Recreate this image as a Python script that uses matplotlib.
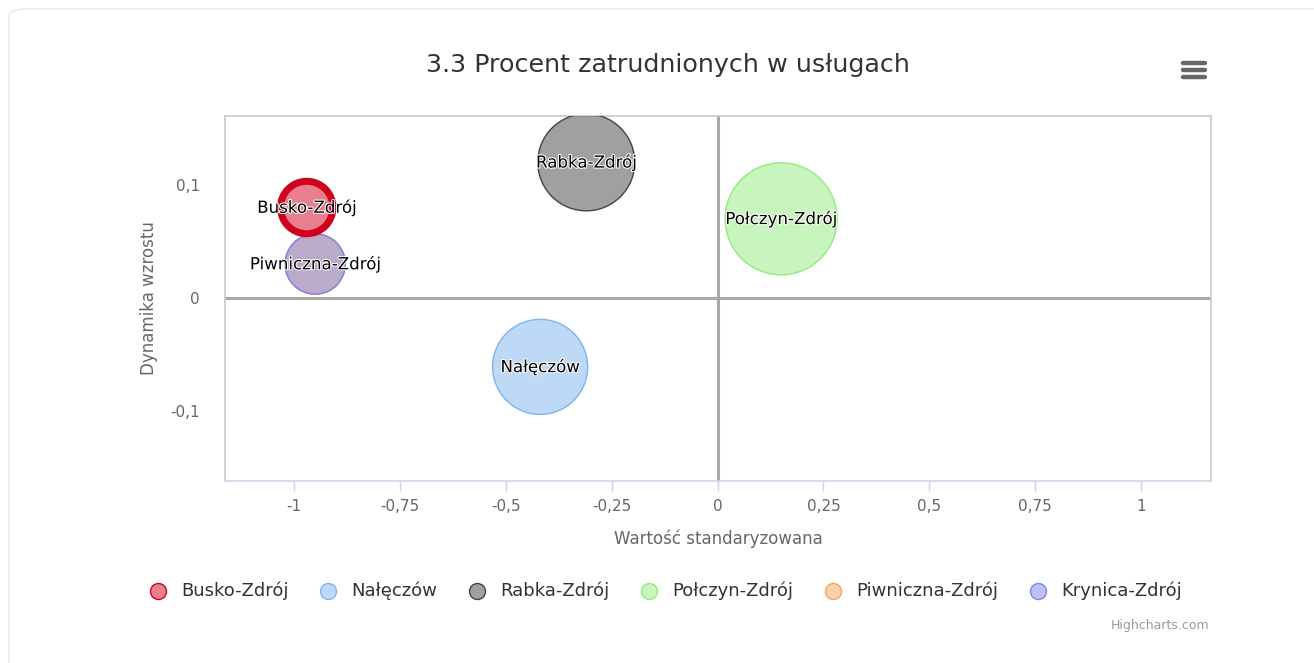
import matplotlib
matplotlib.use('Agg')
import matplotlib.pyplot as plt
import matplotlib.patheffects as pe
from matplotlib.patches import FancyBboxPatch
from matplotlib.lines import Line2D
import numpy as np

# series data
names = ['Busko-Zdrój', 'Nałęczów', 'Rabka-Zdrój', 'Połczyn-Zdrój',
         'Piwniczna-Zdrój', 'Krynica-Zdrój']
x_vals = [-0.970, -0.419, -0.310, 0.150, -0.950, -0.950]
y_vals = [0.080, -0.061, 0.120, 0.070, 0.030, 0.030]
z_vals = [0.22, 0.72, 0.75, 1.00, 0.29, 0.29]
colors = ['#d0021b', '#7cb5ec', '#434348', '#90ed7d', '#f7a35c', '#8085e9']
show_label = [True, True, True, True, True, False]

x_ticks = [-1, -0.75, -0.5, -0.25, 0, 0.25, 0.5, 0.75, 1]
y_ticks = [-0.1, 0, 0.1]

title = '3.3 Procent zatrudnionych w usługach'
x_title = 'Wartość standaryzowana'
y_title = 'Dynamika wzrostu'

W, H, DPI = 1314, 663, 100
PX = 72.0 / DPI  # points per pixel
plt.rcParams['font.family'] = ['DejaVu Sans']


def fmt(v):
    return ('%g' % v).replace('.', ',')


fig = plt.figure(figsize=(W / DPI, H / DPI), dpi=DPI)

# card background
card = FancyBboxPatch((9 / W, -0.05), 1.1, 1.05 - 9 / H,
                      boxstyle='round,pad=0,rounding_size=0.012',
                      transform=fig.transFigure, facecolor='white',
                      edgecolor='#ebebeb', linewidth=1.2, zorder=-10)
fig.patches.append(card)

left, right, top, bottom = 225, 1211, 116, 481
ax = fig.add_axes([left / W, 1 - bottom / H, (right - left) / W, (bottom - top) / H])
ax.set_zorder(1)
ax.patch.set_alpha(0)
ax.set_xlim(-1.163, 1.165)
ax.set_ylim(-0.162, 0.161)

# bubbles
r_max = 56.0
z_max = max(z_vals)
for i, name in enumerate(names):
    r = r_max * np.sqrt(z_vals[i] / z_max)
    s = (2 * r * PX) ** 2
    zo = 5 if i == 0 else 3
    lw = 7 * PX if i == 0 else 1
    ax.scatter(x_vals[i], y_vals[i], s=s, facecolor=colors[i], alpha=0.5,
               edgecolor='none', zorder=zo)
    ax.scatter(x_vals[i], y_vals[i], s=s, facecolor='none',
               edgecolor=colors[i], linewidth=lw, zorder=zo)

for i, name in enumerate(names):
    if show_label[i]:
        ax.text(x_vals[i], y_vals[i], name, ha='center', va='center',
                fontsize=12, color='black', zorder=10,
                path_effects=[pe.withStroke(linewidth=1.5, foreground='white')])

# zero lines
ax.axhline(0, color='#a9a9a9', linewidth=2.2, zorder=2)
ax.axvline(0, color='#a9a9a9', linewidth=2.2, zorder=2)

for side in ['left', 'top', 'right']:
    ax.spines[side].set_color('#c8c8c8')
    ax.spines[side].set_linewidth(1.2)
ax.spines['bottom'].set_color('#ccd6eb')
ax.spines['bottom'].set_linewidth(1.2)

ax.set_xticks(x_ticks)
ax.set_xticklabels([fmt(v) for v in x_ticks])
ax.set_yticks(y_ticks)
ax.set_yticklabels([fmt(v) for v in y_ticks])
ax.tick_params(axis='x', length=10 * PX, color='#ccd6eb', width=1,
               labelsize=11, labelcolor='#666666', pad=6)
ax.tick_params(axis='y', length=0, labelsize=11, labelcolor='#666666', pad=18)

ax.set_xlabel(x_title, fontsize=12, color='#666666', labelpad=11)
ax.set_ylabel(y_title, fontsize=12, color='#666666', labelpad=9)

fig.text(668 / W, 1 - 65 / H, title, ha='center', va='center',
         fontsize=18.3, color='#333333')

# menu icon
for yy in [63, 70, 77]:
    fig.add_artist(Line2D([1183 / W, 1205 / W], [1 - yy / H, 1 - yy / H],
                          color='#666666', linewidth=3.2, solid_capstyle='round'))

# legend, drawn manually and centred
renderer = fig.canvas.get_renderer()
legend_y = 1 - 591 / H
texts = []
for name in names:
    t = fig.text(0, legend_y, name, fontsize=13, color='#333333',
                 ha='left', va='center')
    texts.append(t)
widths = [t.get_window_extent(renderer).width for t in texts]
marker_to_text = 23
gap = 32
total = sum(8 + marker_to_text + w for w in widths) + gap * (len(names) - 1)
cx = 666 - total / 2
for i, name in enumerate(names):
    mx = cx + 8
    fig.add_artist(Line2D([mx / W], [legend_y], marker='o', markersize=16 * PX,
                          markerfacecolor=matplotlib.colors.to_rgba(colors[i], 0.5),
                          markeredgecolor=colors[i], markeredgewidth=1,
                          linestyle='none'))
    texts[i].set_x((mx + marker_to_text) / W)
    cx = mx + marker_to_text + widths[i] + gap

fig.text(1209 / W, 1 - 626 / H, 'Highcharts.com', ha='right', va='center',
         fontsize=9, color='#999999')

fig.savefig('out.png', dpi=DPI)
